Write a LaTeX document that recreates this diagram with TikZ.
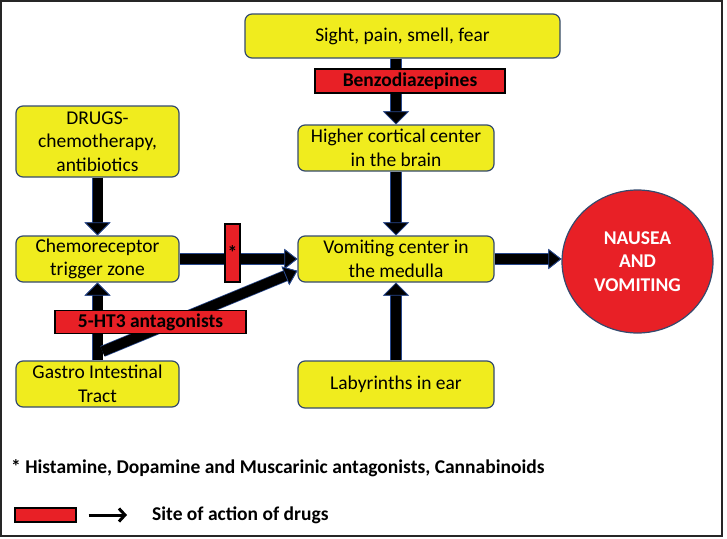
\documentclass[tikz,border=0pt]{standalone}
\usepackage{fontspec}
\setmainfont{Carlito}
\usepackage{tikz}
\usetikzlibrary{calc}
\usetikzlibrary{arrows.meta}
\usetikzlibrary{shapes.geometric}
\definecolor{boxyellow}{RGB}{240, 236, 30}
\definecolor{drugred}{RGB}{232, 32, 38}
\definecolor{boxedge}{RGB}{52, 74, 110}
\definecolor{arrowedge}{RGB}{40, 72, 140}
\tikzset{
    stage/.style   = {draw=boxedge, fill=boxyellow, line width=1.2pt, rounded corners=7pt,
                      align=center, inner sep=0pt, font=\fontsize{19.5}{23.5}\selectfont},
    drugbox/.style = {draw=black, fill=drugred, line width=1.2pt, inner sep=0pt,
                      font=\bfseries\fontsize{19.5}{23.5}\selectfont},
    flow/.style    = {draw=black, line width=10pt,
                      -{Triangle[length=13pt, width=#1, line width=0.8pt, fill=black, color=arrowedge]},
                      preaction={draw=arrowedge, line width=11.5pt}},
    flow/.default  = 26pt
}
\begin{document}
\begin{tikzpicture}[x=1pt, y=-1pt]
    % Frame to ensure alignment:
    \useasboundingbox (0, 0) rectangle (727, 538);
    \draw[line width=2pt, black!85] (1, 1) rectangle (722, 536);

    % yellow stages
    \node[stage, minimum width=315pt, minimum height=44pt] (sight)  at (402.5,  36.0) {Sight, pain, smell, fear};
    \node[stage, minimum width=196pt, minimum height=46pt] (higher) at (396.0, 148.0) {Higher cortical center\\in the brain};
    \node[stage, minimum width=163pt, minimum height=71pt] (drugs)  at ( 97.5, 141.5) {DRUGS-\\chemotherapy,\\antibiotics};
    \node[stage, minimum width=163pt, minimum height=46pt] (chemo)  at ( 97.5, 259.0) {Chemoreceptor\\trigger zone};
    \node[stage, minimum width=196pt, minimum height=46pt] (vomit)  at (396.0, 259.0) {Vomiting center in\\the medulla};
    \node[stage, minimum width=163pt, minimum height=46pt] (gastro) at ( 97.5, 384.0) {Gastro Intestinal\\Tract};
    \node[stage, minimum width=196pt, minimum height=47pt] (laby)   at (396.0, 384.5) {Labyrinths in ear};
    \node[ellipse, draw=boxedge, fill=drugred, line width=1.2pt, inner sep=0pt,
          minimum width=151pt, minimum height=143pt, align=center, text=white,
          font=\bfseries\fontsize{19.5}{23.5}\selectfont]  (nausea) at (637.5, 261.5) {NAUSEA\\AND\\VOMITING};

    % pathways
    \coordinate (gitop) at ($(gastro.north)+(5, -9)$);
    \draw[flow]      (drugs)  -- (chemo);
    \draw[flow]      (gastro) -- (chemo);
    \draw[flow]      (sight.south -| higher.north) -- (higher.north);
    \draw[flow]      (higher) -- (vomit);
    \draw[flow]      (laby)   -- (vomit);
    \draw[flow=20pt] (chemo.east) -- (vomit.west);
    \draw[flow=20pt] (gitop) -- ($(vomit.south west)!0.25!(vomit.north west)$);
    \draw[flow=20pt] (vomit.east) -- (vomit.east -| nausea.west);

    % sites of drug action
    \node[drugbox, minimum width=190pt, minimum height=24pt] (benzo)   at (410.0,  81.0) {Benzodiazepines};
    \node[drugbox, minimum width=191pt, minimum height=23pt] (fiveht)  at (150.5, 322.0) {5-HT3 antagonists};
    \node[drugbox, minimum width=15pt,  minimum height=58pt] (starbar) at (232.5, 253.0) {*};

    % footnote and legend
    \node[anchor=west, inner sep=0pt, font=\bfseries\fontsize{19.5}{23.5}\selectfont] (footnote) at (11, 468)
         {* Histamine, Dopamine and Muscarinic antagonists, Cannabinoids};
    \node[drugbox, minimum width=61pt, minimum height=14pt] (keybox) at (45.5, 515) {};
    \coordinate (keyend) at (127, 515);
    \draw[line width=3pt, -{Straight Barb[length=6pt, width=13pt]}] ([xshift=12pt]keybox.east) -- (keyend);
    \node[anchor=west, inner sep=0pt, font=\bfseries\fontsize{19.5}{23.5}\selectfont] (keytext) at (152, 515)
         {Site of action of drugs};
\end{tikzpicture}
\end{document}
